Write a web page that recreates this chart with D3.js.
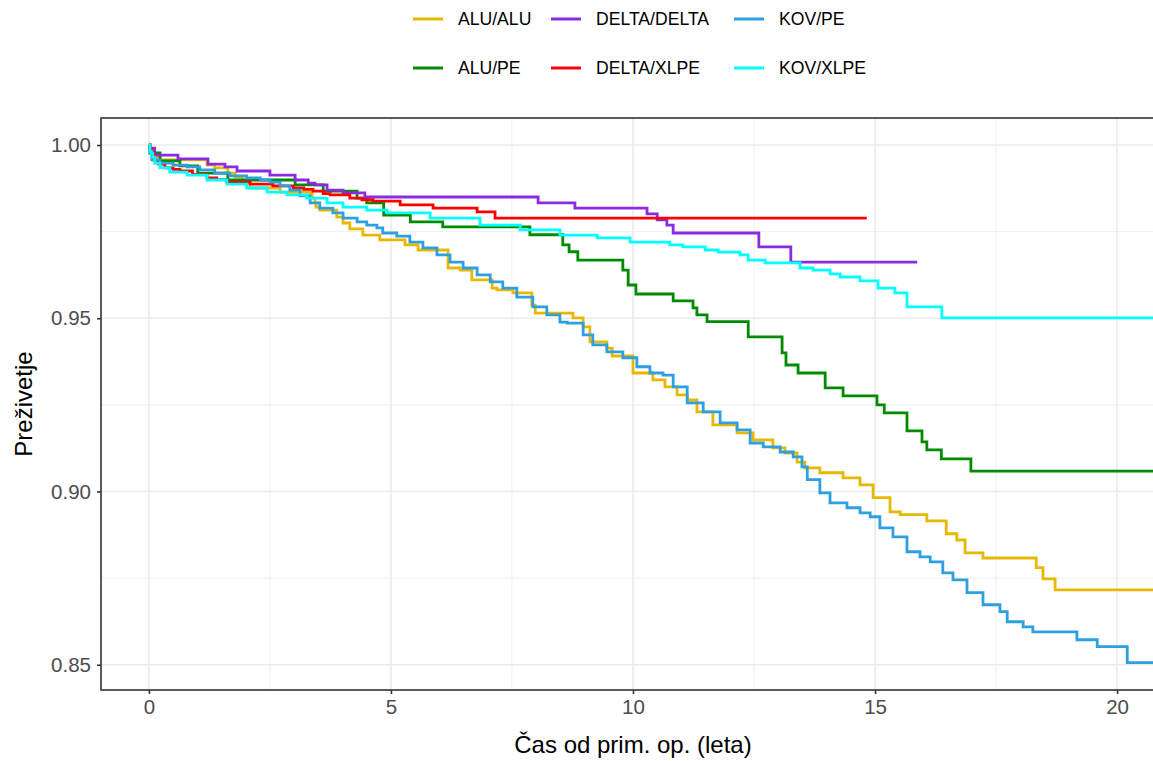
<!DOCTYPE html>
<html>
<head>
<meta charset="utf-8">
<script src="https://cdn.jsdelivr.net/npm/d3@7"></script>
<style>
  html, body { margin: 0; padding: 0; background: #ffffff; }
  svg { display: block; font-family: "Liberation Sans", Arial, sans-serif; }
</style>
</head>
<body>
<svg id="chart" width="1153" height="761"></svg>
<script>
// ---------------- data ----------------
const groups = ["ALU/ALU", "ALU/PE", "DELTA/DELTA", "DELTA/XLPE", "KOV/PE", "KOV/XLPE"];
const groupColors = ["#E7B800", "#008B00", "#8A2BE2", "#FF0000", "#2E9FDF", "#00FFFF"];

const xTicks = [0, 5, 10, 15, 20];
const xMinorTicks = [2.5, 7.5, 12.5, 17.5];
const yTicks = [0.85, 0.90, 0.95, 1.00];
const yMinorTicks = [0.875, 0.925, 0.975];
const yTickLabels = ["0.85", "0.90", "0.95", "1.00"];

const xTitle = "Čas od prim. op. (leta)";
const yTitle = "Preživetje";

const aluAluTime = [0, 0.02, 0.06, 0.12, 0.23, 1.20, 1.36, 1.63, 1.78, 1.94, 2.09, 2.71, 3.33, 3.37, 3.43, 3.45, 3.53, 3.88, 4.01, 4.15, 4.42, 4.77, 5.29, 5.56, 6.18, 6.43, 6.67, 7.09, 7.19, 7.52, 7.91, 7.98, 8.76, 8.97, 9.11, 9.46, 9.57, 10.0, 10.41, 10.66, 10.91, 11.12, 11.32, 11.65, 12.15, 12.48, 12.89, 13.14, 13.39, 13.55, 13.86, 14.34, 14.69, 14.96, 15.31, 15.52, 16.07, 16.47, 16.69, 16.86, 17.23, 18.33, 18.47, 18.72, 21.5];
const aluAluSurv = [1, 0.9986, 0.9977, 0.9965, 0.9957, 0.9942, 0.9934, 0.9919, 0.9908, 0.9890, 0.9876, 0.9864, 0.9862, 0.9847, 0.9833, 0.9821, 0.9812, 0.9792, 0.9775, 0.9758, 0.9740, 0.9726, 0.9712, 0.9697, 0.9645, 0.9639, 0.9611, 0.9587, 0.9582, 0.9573, 0.9538, 0.9515, 0.9501, 0.9475, 0.9432, 0.9414, 0.9391, 0.9342, 0.9322, 0.9302, 0.9279, 0.9264, 0.9230, 0.9192, 0.9169, 0.9149, 0.9126, 0.9111, 0.9085, 0.9068, 0.9054, 0.9039, 0.9019, 0.8982, 0.8941, 0.8933, 0.8915, 0.8878, 0.8860, 0.8823, 0.8808, 0.8780, 0.8748, 0.8716, 0.8716];

const aluPeTime = [0, 0.02, 0.23, 0.64, 1.01, 1.63, 3.02, 3.60, 4.30, 4.50, 4.85, 5.40, 6.07, 7.87, 8.55, 8.68, 8.86, 9.79, 9.90, 10.06, 10.83, 11.24, 11.32, 11.53, 12.38, 13.08, 13.16, 13.41, 13.97, 14.34, 15.04, 15.19, 15.66, 15.97, 16.07, 16.37, 16.98, 21.5];
const aluPeSurv = [1, 0.9977, 0.9954, 0.9940, 0.9919, 0.9899, 0.9885, 0.9867, 0.9847, 0.9833, 0.9798, 0.9778, 0.9764, 0.9741, 0.9712, 0.9692, 0.9668, 0.9639, 0.9596, 0.9570, 0.9550, 0.9530, 0.9510, 0.9490, 0.9446, 0.9400, 0.9365, 0.9342, 0.9299, 0.9276, 0.9250, 0.9227, 0.9175, 0.9143, 0.9120, 0.9094, 0.9059, 0.9059];

const deltaDeltaTime = [0, 0.02, 0.12, 0.60, 1.22, 1.57, 1.82, 2.50, 3.02, 3.29, 3.43, 3.68, 4.01, 4.46, 8.04, 8.80, 10.29, 10.50, 10.70, 10.83, 12.60, 13.26, 15.87];
const deltaDeltaSurv = [1, 0.9991, 0.9971, 0.9960, 0.9945, 0.9937, 0.9925, 0.9913, 0.9899, 0.9890, 0.9885, 0.9870, 0.9862, 0.9850, 0.9833, 0.9818, 0.9801, 0.9784, 0.9769, 0.9746, 0.9706, 0.9662, 0.9662];

const deltaXlpeTime = [0, 0.02, 0.05, 0.08, 0.12, 0.20, 0.33, 0.50, 0.64, 0.90, 1.20, 1.40, 1.61, 2.09, 2.56, 2.98, 3.20, 3.39, 3.60, 3.74, 4.15, 4.40, 4.63, 5.19, 5.87, 6.78, 7.15, 14.83];
const deltaXlpeSurv = [1, 0.999, 0.998, 0.997, 0.9954, 0.9945, 0.9934, 0.9930, 0.9925, 0.9915, 0.9905, 0.9900, 0.9893, 0.9887, 0.9882, 0.9876, 0.9872, 0.9867, 0.9860, 0.9856, 0.9847, 0.9842, 0.9838, 0.9827, 0.9818, 0.9807, 0.9789, 0.9789];

const kovPeTime = [0, 0.02, 0.06, 0.23, 0.50, 0.79, 1.05, 1.36, 1.67, 2.02, 2.30, 2.50, 2.71, 2.91, 3.12, 3.33, 3.53, 3.80, 4.01, 4.30, 4.50, 4.71, 4.83, 5.12, 5.39, 5.66, 5.95, 6.22, 6.49, 6.78, 7.05, 7.31, 7.60, 7.93, 8.22, 8.49, 8.64, 8.97, 9.17, 9.46, 9.79, 10.08, 10.35, 10.62, 10.83, 11.12, 11.45, 11.80, 12.15, 12.42, 12.69, 13.04, 13.31, 13.49, 13.60, 13.86, 14.07, 14.42, 14.69, 14.90, 15.10, 15.37, 15.66, 15.93, 16.14, 16.40, 16.61, 16.90, 17.23, 17.58, 17.73, 18.06, 18.26, 19.17, 19.59, 20.21, 21.5];
const kovPeSurv = [1, 0.998, 0.9957, 0.9948, 0.9942, 0.9937, 0.9928, 0.9919, 0.9911, 0.9905, 0.9899, 0.9893, 0.9882, 0.9870, 0.9853, 0.9833, 0.9818, 0.9804, 0.9789, 0.9778, 0.9769, 0.9761, 0.9746, 0.9737, 0.9720, 0.9703, 0.9683, 0.9662, 0.9645, 0.9625, 0.9605, 0.9587, 0.9561, 0.9533, 0.9510, 0.9489, 0.9486, 0.9452, 0.9423, 0.9403, 0.9386, 0.9360, 0.9342, 0.9336, 0.9302, 0.9256, 0.9230, 0.9198, 0.9178, 0.9140, 0.9129, 0.9114, 0.9100, 0.9071, 0.9034, 0.8996, 0.8967, 0.8953, 0.8938, 0.8927, 0.8895, 0.8869, 0.8826, 0.8811, 0.8797, 0.8765, 0.8745, 0.8708, 0.8673, 0.8653, 0.8624, 0.8609, 0.8595, 0.8572, 0.8552, 0.8506, 0.8506];

const kovXlpeTime = [0, 0.02, 0.05, 0.08, 0.12, 0.23, 0.43, 0.79, 1.20, 1.61, 2.02, 2.44, 2.85, 3.26, 3.68, 4.01, 4.50, 4.92, 5.81, 6.84, 7.67, 8.49, 9.26, 9.94, 10.76, 11.03, 11.49, 11.76, 12.21, 12.38, 12.73, 13.45, 13.72, 14.07, 14.28, 14.69, 15.06, 15.41, 15.66, 16.38, 21.5];
const kovXlpeSurv = [1, 0.998, 0.9975, 0.9965, 0.9948, 0.9934, 0.9922, 0.9913, 0.9899, 0.9887, 0.9876, 0.9864, 0.9856, 0.9847, 0.9833, 0.9821, 0.9812, 0.9804, 0.9789, 0.9769, 0.9755, 0.9740, 0.9732, 0.9720, 0.9712, 0.9706, 0.9697, 0.9691, 0.9683, 0.9668, 0.9660, 0.9645, 0.9639, 0.9628, 0.9619, 0.9608, 0.9587, 0.9573, 0.9533, 0.9501, 0.9501];

const seriesTimes = [aluAluTime, aluPeTime, deltaDeltaTime, deltaXlpeTime, kovPeTime, kovXlpeTime];
const seriesSurv = [aluAluSurv, aluPeSurv, deltaDeltaSurv, deltaXlpeSurv, kovPeSurv, kovXlpeSurv];

// ---------------- layout ----------------
const W = 1153, H = 761;
const panel = { left: 101, top: 118, right: 1165, bottom: 690 };
const xDomain = [-0.99, 20.99];
const yDomain = [0.8427, 1.0078];

const svg = d3.select("#chart");
const x = d3.scaleLinear().domain(xDomain).range([panel.left, panel.right]);
const y = d3.scaleLinear().domain(yDomain).range([panel.bottom, panel.top]);

svg.append("rect").attr("width", W).attr("height", H).attr("fill", "#ffffff");

svg.append("defs").append("clipPath").attr("id", "panelClip")
  .append("rect")
  .attr("x", panel.left).attr("y", panel.top)
  .attr("width", panel.right - panel.left).attr("height", panel.bottom - panel.top);

const grid = svg.append("g");
grid.selectAll("line.xminor").data(xMinorTicks).join("line")
  .attr("x1", d => x(d)).attr("x2", d => x(d))
  .attr("y1", panel.top).attr("y2", panel.bottom)
  .attr("stroke", "#EBEBEB").attr("stroke-width", 0.8);
grid.selectAll("line.yminor").data(yMinorTicks).join("line")
  .attr("x1", panel.left).attr("x2", panel.right)
  .attr("y1", d => y(d)).attr("y2", d => y(d))
  .attr("stroke", "#EBEBEB").attr("stroke-width", 0.8);
const gx = svg.append("g");
gx.selectAll("line").data(xTicks).join("line")
  .attr("x1", d => x(d)).attr("x2", d => x(d))
  .attr("y1", panel.top).attr("y2", panel.bottom)
  .attr("stroke", "#EBEBEB").attr("stroke-width", 1.6);
const gy = svg.append("g");
gy.selectAll("line").data(yTicks).join("line")
  .attr("x1", panel.left).attr("x2", panel.right)
  .attr("y1", d => y(d)).attr("y2", d => y(d))
  .attr("stroke", "#EBEBEB").attr("stroke-width", 1.6);

// curves
const line = d3.line()
  .x(d => x(d[0]))
  .y(d => y(d[1]))
  .curve(d3.curveStepAfter);

const curves = svg.append("g").attr("clip-path", "url(#panelClip)");
groups.forEach((g, i) => {
  const pts = d3.zip(seriesTimes[i], seriesSurv[i]);
  curves.append("path")
    .datum(pts)
    .attr("d", line)
    .attr("fill", "none")
    .attr("stroke", groupColors[i])
    .attr("stroke-width", 2.8)
    .attr("stroke-linejoin", "miter")
    .attr("stroke-linecap", "butt");
});

// panel border
svg.append("rect")
  .attr("x", panel.left).attr("y", panel.top)
  .attr("width", panel.right - panel.left).attr("height", panel.bottom - panel.top)
  .attr("fill", "none").attr("stroke", "#333333").attr("stroke-width", 1.6);

// axes
const xAxis = d3.axisBottom(x).tickValues(xTicks).tickSize(4).tickPadding(5).tickFormat(d3.format("d"));
const xAxisG = svg.append("g").attr("transform", `translate(0,${panel.bottom})`).call(xAxis);
xAxisG.select(".domain").remove();
xAxisG.selectAll(".tick line").attr("stroke", "#333333").attr("stroke-width", 1.6);
xAxisG.selectAll(".tick text")
  .attr("fill", "#4D4D4D").style("font-size", "20.5px")
  .style("font-family", "'Liberation Sans', Arial, sans-serif");

const yAxis = d3.axisLeft(y).tickValues(yTicks).tickSize(4).tickPadding(6)
  .tickFormat((d, i) => yTickLabels[i]);
const yAxisG = svg.append("g").attr("transform", `translate(${panel.left},0)`).call(yAxis);
yAxisG.select(".domain").remove();
yAxisG.selectAll(".tick line").attr("stroke", "#333333").attr("stroke-width", 1.6);
yAxisG.selectAll(".tick text")
  .attr("fill", "#4D4D4D").style("font-size", "20.5px")
  .style("font-family", "'Liberation Sans', Arial, sans-serif");

// titles
svg.append("text")
  .attr("x", (panel.left + panel.right) / 2).attr("y", 753)
  .attr("text-anchor", "middle")
  .style("font-size", "24px").attr("fill", "#000000")
  .text(xTitle);

svg.append("text")
  .attr("transform", `translate(32,${(panel.top + panel.bottom) / 2}) rotate(-90)`)
  .attr("text-anchor", "middle")
  .style("font-size", "24px").attr("fill", "#000000")
  .text(yTitle);

// legend (2 rows, filled by column)
const legendCols = [413, 551, 734];
const legendRows = [19, 68];
const legend = svg.append("g");
groups.forEach((g, i) => {
  const col = Math.floor(i / 2), row = i % 2;
  const lx = legendCols[col], ly = legendRows[row];
  legend.append("line")
    .attr("x1", lx).attr("x2", lx + 30)
    .attr("y1", ly).attr("y2", ly)
    .attr("stroke", groupColors[i]).attr("stroke-width", 3);
  legend.append("text")
    .attr("x", lx + 45).attr("y", ly)
    .attr("dominant-baseline", "central")
    .style("font-size", "17.6px").attr("fill", "#000000")
    .text(g);
});
</script>
</body>
</html>
